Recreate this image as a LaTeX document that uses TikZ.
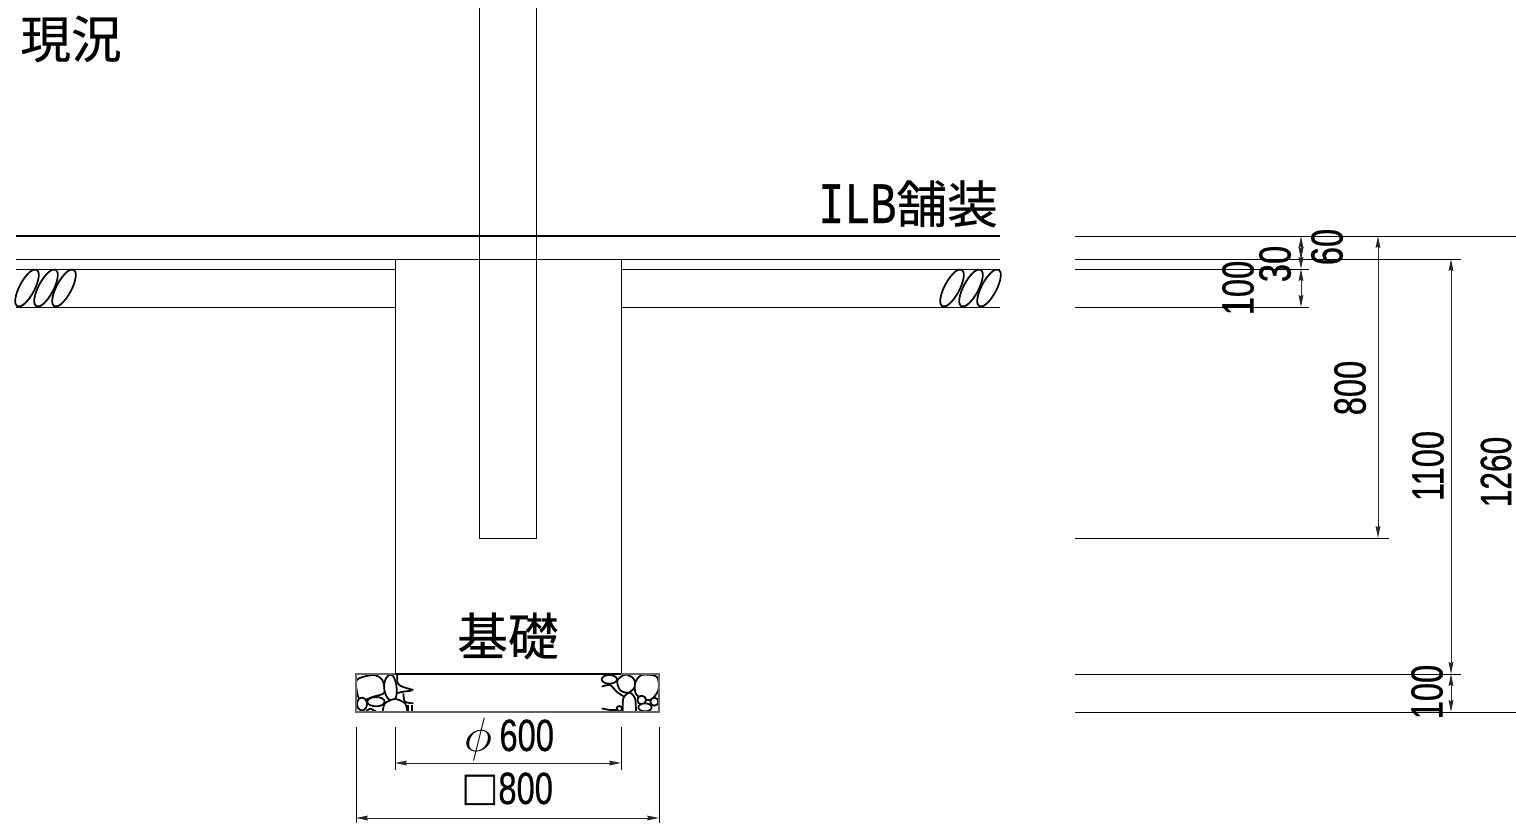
\documentclass[tikz,border=0pt]{standalone}
\usepackage{graphicx}
\usepackage{fontspec}
\usetikzlibrary{arrows.meta}
\setmainfont{Liberation Sans}
\newfontfamily\cjk[FakeBold=0.4]{Noto Sans CJK JP}
\newfontfamily\cjkbox[FakeBold=1.6]{Noto Sans CJK JP}
\newfontfamily\narrow[FakeStretch=0.72,FakeBold=0.5]{Liberation Sans}
\newfontfamily\narrowmono[FakeStretch=0.74,FakeBold=0.5]{Liberation Mono}
\tikzset{
 x=.75pt,y=-.75pt,
 thin line/.style={line width=.7pt,black},
 base line/.style={line width=.95pt,black},
 dim/.style={line width=.7pt,black},
 dimarrow/.style={line width=.7pt,black!85,{Stealth[length=9pt,width=3.6pt,inset=1pt]}-{Stealth[length=9pt,width=3.6pt,inset=1pt]}},
 title text/.style={inner sep=0,font={\cjk\fontsize{38}{38}\selectfont}},
 num/.style={inner sep=0,font={\narrow\fontsize{34}{34}\selectfont}},
 vnum/.style={num,rotate=90},
 stone/.style={line width=1.3pt,black,fill=white},
 break/.style={line width=1.3pt,black},
 box edge/.style={line width=.9pt,black!60},
}
\begin{document}
\begin{tikzpicture}
\useasboundingbox (0,0) rectangle (1516,825);
% layers
\draw[base line] (16,236) -- (1000,236);
\draw[thin line] (16,259) -- (1000,259);
\draw[thin line] (16,269) -- (395,269) (621,269) -- (1000,269);
\draw[thin line] (16,307) -- (395,307) (621,307) -- (1000,307);
% post and foundation
\draw[thin line] (479,8) -- (479,538) -- (536,538) -- (536,8);
\draw[thin line] (395,259) -- (395,674) (621,259) -- (621,674);
% break marks
\foreach \c in {27,46,64,952,971,989}
  \draw[break] (\c,288) ellipse[x radius=20.8,y radius=7.5,rotate=62];
% stones
\begin{scope}[shift={(340,660)},x=.25pt,y=-.25pt]
 \draw[stone] plot[smooth cycle,tension=.5] coordinates {(52,58)(100,45)(127,60)(133,98)(100,110)(62,122)(50,90)};
 \draw[stone] plot[smooth cycle,tension=.8] coordinates {(133,70)(150,44)(165,60)(170,100)(160,120)(140,110)};
 \draw[stone] (66,132) ellipse[x radius=15,y radius=19];
 \draw[stone] (108,125) ellipse[x radius=26,y radius=14];
 \draw[stone] plot[smooth] coordinates {(128,155)(135,130)(165,117)(195,130)(202,155)};
 \draw[stone,fill=none] plot[smooth] coordinates {(78,155)(90,146)(108,155)};
 \draw[stone,fill=none] plot[smooth] coordinates {(172,44)(172,65)(182,78)(220,90)};
 \draw[stone,fill=none] plot[smooth] coordinates {(168,100)(190,95)(215,92)};
 \draw[stone,fill=none] plot[smooth] coordinates {(190,100)(195,125)(220,130)};
 \draw[stone,fill=none] (205,135) -- (205,155) (216,135) -- (216,155);
 % right group
 \draw[stone] (808,58) ellipse[x radius=23,y radius=13];
 \draw[stone] plot[smooth cycle] coordinates {(832,62)(855,44)(880,55)(885,80)(865,98)(840,90)};
 \draw[stone] plot[smooth cycle,tension=.5] coordinates {(885,70)(905,45)(950,50)(955,90)(930,120)(890,105)};
 \draw[stone] plot[smooth] coordinates {(848,155)(850,115)(868,98)(885,115)(888,155)};
 \draw[stone] (905,120) circle[radius=13];
 \draw[stone] (943,125) circle[radius=12];
 \draw[stone] (915,142) ellipse[x radius=20,y radius=12];
 \draw[stone] (838,146) circle[radius=8];
 \draw[stone,fill=none] plot[smooth] coordinates {(785,80)(810,75)(830,95)(852,110)};
 \draw[stone,fill=none] plot[smooth] coordinates {(785,145)(810,150)(835,150)};
\end{scope}
% gravel box
\draw[box edge] (356,674) -- (356,712) -- (659,712) -- (659,674) -- cycle;
\draw[line width=1.8pt] (395,674) -- (621,674);
% bottom dimensions
\draw[dim] (356,727) -- (356,823) (659,727) -- (659,823);
\draw[dim] (395,727) -- (395,770) (621,727) -- (621,770);
\draw[dimarrow] (395,763) -- (621,763);
\draw[dimarrow] (356,818) -- (659,818);
% right side lines
\draw[dim] (1075,236) -- (1516,236);
\draw[dim] (1075,259) -- (1461,259);
\draw[dim] (1075,269) -- (1309,269);
\draw[dim] (1075,307) -- (1309,307);
\draw[dim] (1075,538) -- (1389,538);
\draw[dim] (1075,674) -- (1461,674);
\draw[dim] (1075,712) -- (1516,712);
% right side dimensions
\draw[dimarrow] (1301,236) -- (1301,259);
\draw[dimarrow] (1301,259) -- (1301,269);
\draw[dimarrow] (1301,269) -- (1301,307);
\draw[dimarrow] (1378,236) -- (1378,538);
\draw[dimarrow] (1451,259) -- (1451,674);
\draw[dimarrow] (1451,674) -- (1451,712);
% texts
\node[title text] (genkyo) at (71,39) {現況};
\node[title text] (kiso) at (508,636) {基礎};
\node[title text,anchor=base east] (ilb) at (998,223) {{\narrowmono\fontsize{44}{44}\selectfont ILB}舗装};
\node[num,anchor=base] (phi) at (509,751) {\scalebox{1.45}{$\phi$}\,600};
\node[num,anchor=base] (sq) at (507,804) {{\cjkbox\fontsize{28}{28}\selectfont □}800};
\node[vnum] (v100a) at (1238,288) {100};
\node[vnum] (v30) at (1275,264) {30};
\node[vnum] (v60) at (1327,247) {60};
\node[vnum] (v800) at (1350,388) {800};
\node[vnum] (v1100) at (1428,466) {1100};
\node[vnum,font={\narrow\fontsize{33}{33}\selectfont}] (v1260) at (1496,472) {1260};
\node[vnum] (v100b) at (1427,692) {100};
\end{tikzpicture}
\end{document}
